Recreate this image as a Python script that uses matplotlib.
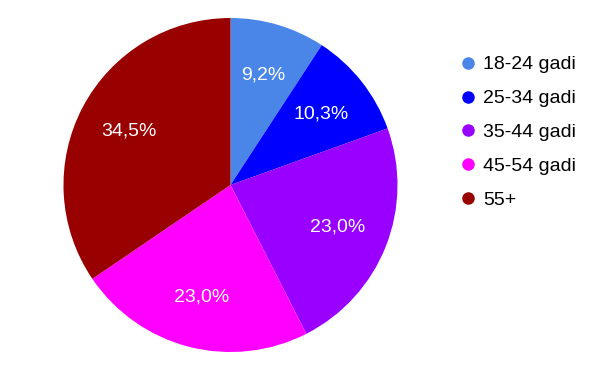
import matplotlib.pyplot as plt
from matplotlib.lines import Line2D

plt.rcParams['font.family'] = ['Liberation Sans', 'DejaVu Sans']

labels = ['18-24 gadi', '25-34 gadi', '35-44 gadi', '45-54 gadi', '55+']
values = [9.2, 10.3, 23.0, 23.0, 34.5]
colors = ['#4a86e8', '#0000ff', '#9900ff', '#ff00ff', '#990000']

fig = plt.figure(figsize=(6, 3.71), dpi=100)
ax = fig.add_axes([0.1058, 0.0512, 0.5567, 0.9003])

wedges, texts, autotexts = ax.pie(
    values, colors=colors, startangle=90, counterclock=False,
    autopct=lambda p: f'{p:.1f}%'.replace('.', ','), pctdistance=0.69,
    wedgeprops={'linewidth': 0}, textprops={'color': 'white', 'fontsize': 14})
ax.set_xlim(-1, 1)
ax.set_ylim(-1, 1)
ax.set_aspect('equal')

handles = [Line2D([], [], marker='o', linestyle='none', markersize=8,
                  markerfacecolor=c, markeredgecolor=c) for c in colors]
fig.legend(handles, labels, loc='center left', bbox_to_anchor=(462 / 600, 0.643),
           frameon=False, fontsize=14, handlelength=0.62, handletextpad=0.46,
           labelspacing=0.84, borderpad=0, borderaxespad=0)

fig.savefig('out.png', dpi=100)
